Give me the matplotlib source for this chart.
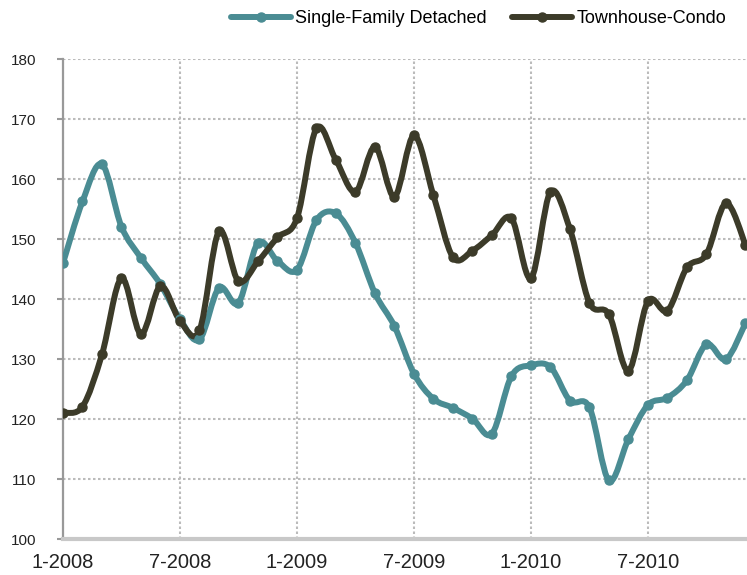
import numpy as np
import matplotlib.pyplot as plt
from matplotlib.path import Path
from matplotlib.patches import PathPatch
from matplotlib.lines import Line2D

# monthly index, 1-2008 .. 12-2010
months = np.arange(36)
tick_pos = [0, 6, 12, 18, 24, 30]
tick_labels = ['1-2008', '7-2008', '1-2009', '7-2009', '1-2010', '7-2010']

single_family = [146, 156.3, 162.5, 152.1, 146.9, 142.5, 136.7, 133.3, 141.9, 139.4,
                 149.4, 146.4, 144.9, 153.2, 154.3, 149.4, 141.0, 135.5, 127.6, 123.4,
                 121.9, 120.1, 117.6, 127.2, 129.0, 128.7, 123.1, 122.0, 109.8, 116.7,
                 122.4, 123.6, 126.5, 132.5, 130.0, 136.0]
townhouse = [121.1, 122.1, 130.8, 143.5, 134.2, 142.2, 136.4, 134.8, 151.3, 143.0,
             146.3, 150.3, 153.5, 168.5, 163.2, 157.9, 165.4, 157.1, 167.3, 157.3,
             147.0, 148.1, 150.7, 153.5, 143.5, 157.9, 151.7, 139.4, 137.5, 128.1,
             139.7, 138.1, 145.3, 147.5, 156.0, 149.1]

teal = '#4a8c93'
dark = '#3c3b29'


def smooth_path(x, y):
    # cubic bezier segments through the points (Excel style smoothing)
    p = np.column_stack([x, y]).astype(float)
    n = len(p)
    verts = [p[0]]
    codes = [Path.MOVETO]
    for i in range(n - 1):
        p0 = p[i - 1] if i > 0 else p[i]
        p3 = p[i + 2] if i + 2 < n else p[i + 1]
        c1 = p[i] + (p[i + 1] - p0) / 6
        c2 = p[i + 1] - (p3 - p[i]) / 6
        verts += [c1, c2, p[i + 1]]
        codes += [Path.CURVE4] * 3
    return Path(verts, codes)


fig = plt.figure(figsize=(7.47, 5.75), dpi=100)
ax = fig.add_axes([0.0843, 0.0621, 0.9157, 0.8348])

for vals, col in [(single_family, teal), (townhouse, dark)]:
    ax.add_patch(PathPatch(smooth_path(months, vals), fill=False, edgecolor=col,
                           lw=4.3, capstyle='round', joinstyle='round', zorder=3))
    ax.plot(months, vals, 'o', color=col, ms=6.5, zorder=4)

ax.set_xlim(0, 35.08)
ax.set_ylim(100, 180)
ax.set_yticks(range(100, 181, 10))
ax.set_xticks(tick_pos)
ax.set_xticklabels(tick_labels, fontsize=14.5, family='Liberation Sans', color='#222222')
ax.tick_params(axis='x', length=0, pad=10)
ax.tick_params(axis='y', length=4, width=1.5, color='#999999', pad=15,
               labelsize=11, labelcolor='#222222')
for lab in ax.get_yticklabels():
    lab.set_family('Liberation Sans')

ax.grid(True, color='#bbbbbb', lw=1.5, ls=(0, (1.2, 1.2)))
ax.set_axisbelow(True)
for s in ['top', 'right']:
    ax.spines[s].set_visible(False)
ax.spines['left'].set_color('#999999')
ax.spines['left'].set_linewidth(1.6)
ax.spines['bottom'].set_color('#c8c8c8')
ax.spines['bottom'].set_linewidth(3)

handles = [Line2D([], [], color=teal, lw=4.3, marker='o', ms=6.5, solid_capstyle='round'),
           Line2D([], [], color=dark, lw=4.3, marker='o', ms=6.5, solid_capstyle='round')]
fig.legend(handles, ['Single-Family Detached', 'Townhouse-Condo'], loc='center right',
           bbox_to_anchor=(0.984, 0.968), ncol=2, frameon=False, handlelength=3.3,
           handletextpad=0.25, columnspacing=1.4, borderpad=0, markerfirst=True,
           prop={'family': 'Liberation Sans', 'size': 13})

fig.savefig('out.png', dpi=100)
